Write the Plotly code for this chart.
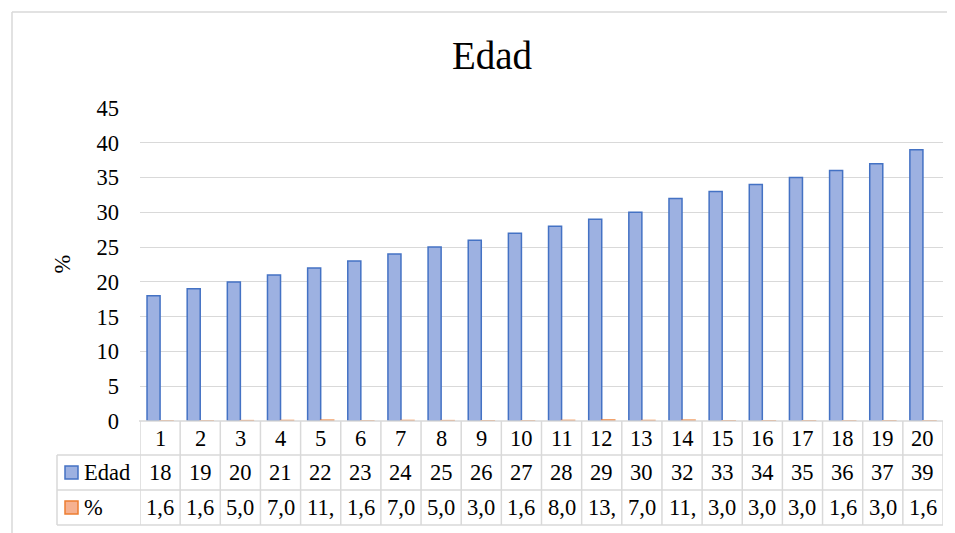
import plotly.graph_objects as go

# ---------------- data ----------------
categories = list(range(1, 21))
edad_values = [18, 19, 20, 21, 22, 23, 24, 25, 26, 27, 28, 29, 30, 32, 33, 34, 35, 36, 37, 39]
pct_values = [1.6, 1.6, 5.0, 7.0, 11.3, 1.6, 7.0, 5.0, 3.0, 1.6, 8.0, 13.8, 7.0, 11.3, 3.0, 3.0, 3.0, 1.6, 3.0, 1.6]
series_names = ["Edad", "%"]
title_text = "Edad"
y_title = "%"
y_ticks = [0, 5, 10, 15, 20, 25, 30, 35, 40, 45]

# ---------------- layout geometry (target page pixels) ----------------
OFF = 8                      # default page body margin
PAGE_W, PAGE_H = 955, 533
W, H = PAGE_W - OFF, PAGE_H - OFF
PLOT_L, PLOT_R, PLOT_T, PLOT_B = 140, 943, 108, 421   # page pixels
ML = PLOT_L - OFF
MR = W - (PLOT_R - OFF)
MT = PLOT_T - OFF
MB = H - (PLOT_B - OFF)
PW = W - ML - MR
PH = H - MT - MB

def px_x(p):
    return (p - PLOT_L) / PW

def px_y(p):
    return (PLOT_B - p) / PH

FONT = "Liberation Serif"
FS = 22.5
GRID = "#d9d9d9"
BLUE_FILL = "#9db1e1"
BLUE_LINE = "#4472c4"
ORANGE_FILL = "#f6b190"
ORANGE_LINE = "#ed7d31"

fig = go.Figure()
fig.add_trace(go.Bar(x=categories, y=edad_values, name=series_names[0],
                     marker=dict(color=BLUE_FILL, line=dict(color=BLUE_LINE, width=1.5))))
fig.add_trace(go.Bar(x=categories, y=[v / 100 for v in pct_values], name=series_names[1],
                     marker=dict(color=ORANGE_FILL, line=dict(color=ORANGE_LINE, width=1.5))))

shapes = []
annotations = []

# outer chart border
shapes.append(dict(type="line", xref="paper", yref="paper",
                   x0=px_x(12), x1=px_x(PAGE_W + 5), y0=px_y(12), y1=px_y(12),
                   line=dict(color=GRID, width=1.5)))
shapes.append(dict(type="line", xref="paper", yref="paper",
                   x0=px_x(12), x1=px_x(12), y0=px_y(12), y1=px_y(PAGE_H + 5),
                   line=dict(color=GRID, width=1.5)))

# data table rows (page pixel y boundaries)
row_top = [421, 455, 490]
row_bot = 525
legend_left = 57
table_left = PLOT_L - 1
table_right = PLOT_R

shapes.append(dict(type="line", xref="paper", yref="paper",
                   x0=px_x(table_left), x1=px_x(table_right), y0=px_y(row_top[0]), y1=px_y(row_top[0]),
                   line=dict(color=GRID, width=1.5)))
for yy in row_top[1:] + [row_bot]:
    shapes.append(dict(type="line", xref="paper", yref="paper",
                       x0=px_x(legend_left), x1=px_x(table_right), y0=px_y(yy), y1=px_y(yy),
                       line=dict(color=GRID, width=1.5)))
for i in range(len(categories) + 1):
    xv = categories[0] - 0.5 + i
    shapes.append(dict(type="line", xref="x", yref="paper",
                       x0=xv, x1=xv, y0=px_y(row_top[0]), y1=px_y(row_bot),
                       line=dict(color=GRID, width=1.5)))
shapes.append(dict(type="line", xref="paper", yref="paper",
                   x0=px_x(legend_left), x1=px_x(legend_left), y0=px_y(row_top[1]), y1=px_y(row_bot),
                   line=dict(color=GRID, width=1.5)))

# legend keys + names
key_fills = [BLUE_FILL, ORANGE_FILL]
key_lines = [BLUE_LINE, ORANGE_LINE]
row_bounds = row_top + [row_bot]
for r in range(2):
    cy = (row_bounds[r + 1] + row_bounds[r + 2]) / 2
    shapes.append(dict(type="rect", xref="paper", yref="paper",
                       x0=px_x(65), x1=px_x(78), y0=px_y(cy - 6.5), y1=px_y(cy + 6.5),
                       fillcolor=key_fills[r], line=dict(color=key_lines[r], width=1.5)))
    annotations.append(dict(xref="paper", yref="paper", x=px_x(82), y=px_y(cy),
                            text=series_names[r], showarrow=False, xanchor="left", yanchor="middle",
                            font=dict(family=FONT, size=FS, color="#000")))

# cell texts
row_centers = [(row_bounds[i] + row_bounds[i + 1]) / 2 for i in range(3)]
pct_labels = [f"{v:.1f}".replace(".", ",")[:3] for v in pct_values]
rows_text = [[str(c) for c in categories], [str(v) for v in edad_values], pct_labels]
for r, texts in enumerate(rows_text):
    for c, t in zip(categories, texts):
        annotations.append(dict(xref="x", yref="paper", x=c, y=px_y(row_centers[r]),
                                text=t, showarrow=False, xanchor="center", yanchor="middle",
                                font=dict(family=FONT, size=FS, color="#000")))

# y axis title
annotations.append(dict(xref="paper", yref="paper", x=px_x(62), y=px_y((PLOT_T + PLOT_B) / 2),
                        text=y_title, showarrow=False, textangle=-90, xanchor="center", yanchor="middle",
                        font=dict(family=FONT, size=FS, color="#000")))

fig.update_layout(
    width=W, height=H,
    margin=dict(l=ML, r=MR, t=MT, b=MB, autoexpand=False),
    paper_bgcolor="white", plot_bgcolor="white",
    barmode="group", bargap=0.35, bargroupgap=0,
    showlegend=False,
    title=dict(text=title_text, x=px_x(492), xref="paper", xanchor="center",
               y=1 - (55 - OFF) / H, yanchor="middle",
               font=dict(family=FONT, size=39, color="#000")),
    xaxis=dict(range=[categories[0] - 0.5, categories[-1] + 0.5], showticklabels=False,
               showgrid=False, zeroline=False, showline=False, ticks=""),
    yaxis=dict(range=[0, 45], tickvals=y_ticks, showgrid=True, gridcolor=GRID, gridwidth=1.3,
               zeroline=False, showline=False, ticks="", ticklabelstandoff=20,
               tickfont=dict(family=FONT, size=FS, color="#000")),
    shapes=shapes, annotations=annotations,
)

fig.write_html("out.html")
